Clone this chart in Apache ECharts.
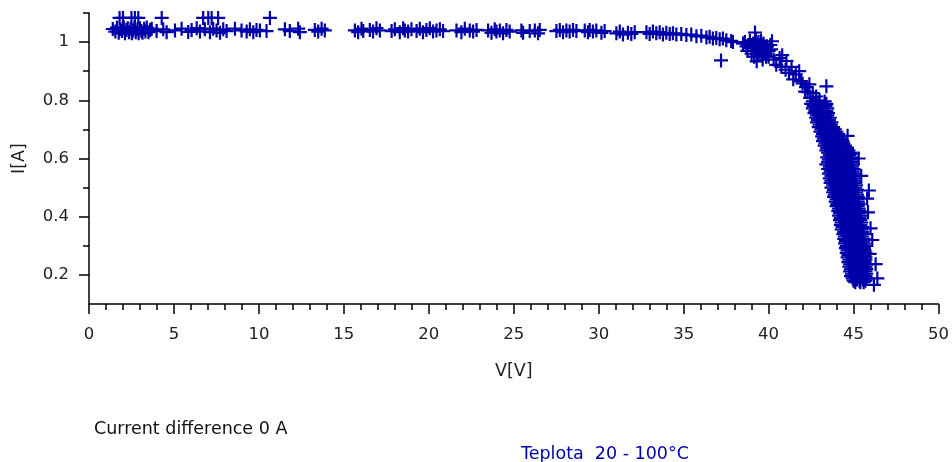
<!DOCTYPE html>
<html>
<head>
<meta charset="utf-8">
<script src="https://cdn.jsdelivr.net/npm/echarts@6/dist/echarts.min.js"></script>
<style>
html,body{margin:0;padding:0;background:#fff;}
#chart{width:952px;height:462px;}
</style>
</head>
<body>
<div id="chart"></div>
<script>
// ---- data: [V, I] pairs ----
const plateauA = [
 [1.40,1.045],[1.55,1.036],[1.65,1.050],[1.75,1.032],[1.85,1.044],[1.95,1.038],[2.05,1.050],[2.12,1.030],
 [2.20,1.042],[2.28,1.048],[2.35,1.034],[2.45,1.046],[2.52,1.030],[2.60,1.040],[2.68,1.050],[2.75,1.034],
 [2.85,1.044],[2.92,1.030],[3.00,1.048],[3.08,1.038],[3.15,1.032],[3.25,1.046],[3.32,1.036],[3.40,1.050],
 [3.50,1.034],[3.60,1.042],[3.69,1.046],[3.98,1.038],[4.37,1.044],[4.57,1.034],[5.06,1.040],[5.45,1.046],
 [5.84,1.035],[6.04,1.042],[6.34,1.048],[6.53,1.036],[6.82,1.044],[7.12,1.034],[7.31,1.046],[7.51,1.040],
 [7.71,1.032],[7.90,1.044],[8.10,1.038],[8.59,1.046],[8.98,1.040],[9.28,1.036],[9.47,1.044],[9.67,1.034],
 [9.86,1.042],[10.06,1.040],[10.45,1.038],[11.53,1.044],[11.82,1.038],[12.31,1.046],[12.41,1.034],
 [13.29,1.042],[13.49,1.036],[13.69,1.046],[13.88,1.040]
];
const plateauHigh = [
 [1.80,1.083],[2.00,1.083],[2.50,1.083],[2.70,1.083],[2.90,1.083],[4.28,1.083],[6.72,1.083],[7.02,1.083],
 [7.22,1.083],[7.60,1.083],[10.65,1.083]
];
const plateauB = [
 [15.65,1.040],[15.84,1.034],[16.04,1.046],[16.14,1.038],[16.53,1.042],[16.72,1.036],[16.92,1.048],[17.12,1.040],
 [17.81,1.038],[18.00,1.044],[18.29,1.034],[18.49,1.048],[18.59,1.040],[18.78,1.036],[18.98,1.044],[19.28,1.038],
 [19.47,1.046],[19.66,1.034],[19.86,1.042],[20.06,1.048],[20.25,1.036],[20.45,1.040],[20.65,1.044],[20.84,1.038],
 [21.63,1.040],[21.92,1.034],[22.12,1.046],[22.41,1.040],[22.61,1.036],[22.81,1.042],[23.49,1.040],[23.69,1.032],
 [23.88,1.044],[23.98,1.036],[24.18,1.040],[24.37,1.030],[24.57,1.042],[24.76,1.036],[25.45,1.040],[25.55,1.032],
 [25.94,1.038],[26.24,1.040],[26.43,1.030],[26.53,1.042],[27.51,1.038],[27.71,1.042],[27.90,1.034],[28.10,1.040],
 [28.29,1.036],[28.49,1.042],[28.69,1.038]
];
const plateauC = [
 [29.18,1.040],[29.37,1.034],[29.47,1.042],[29.66,1.036],[29.86,1.040],[30.16,1.032],[30.35,1.038],[31.04,1.030],
 [31.24,1.036],[31.43,1.026],[31.72,1.032],[31.92,1.028],[32.12,1.034],[32.81,1.034],[33.00,1.028],[33.19,1.036],
 [33.39,1.030],[33.59,1.034],[33.78,1.026],[33.98,1.032],[34.18,1.028],[34.37,1.030],[34.57,1.026],[34.86,1.028],
 [35.16,1.024],[35.45,1.026],[35.75,1.020],[36.04,1.022],[36.34,1.016],[36.53,1.018],[36.72,1.012],[36.92,1.014],
 [37.12,1.010],[37.31,1.012],[37.51,1.006],[37.80,1.004],[37.90,1.000],[37.20,0.937]
];
const knee = [
 [38.6,1.000],[38.7,0.985],[38.8,0.990],[38.9,1.005],[39.0,0.980],[39.0,0.960],[39.1,0.995],[39.2,1.033],
 [39.2,0.970],[39.3,0.985],[39.3,0.934],[39.4,1.000],[39.4,0.960],[39.5,0.975],[39.5,0.990],[39.6,0.955],
 [39.7,0.980],[39.7,0.995],[39.8,0.965],[39.9,0.985],[40.0,0.970],[40.0,0.950],[40.1,0.990],[40.2,1.003],
 [38.75,0.970],[39.15,0.950],[39.55,1.005],[39.85,0.950],[39.25,1.010],[38.5,0.995],[40.15,0.975],[39.65,0.940]
];
const descent = [
 [40.30,0.940],[40.45,0.922],[40.65,0.945],[40.80,0.955],[40.75,0.915],[41.00,0.905],[41.05,0.935],[41.20,0.894],
 [41.35,0.915],[41.60,0.889],[41.45,0.872],[41.80,0.900],[41.90,0.866],[42.00,0.858],[42.20,0.845],[42.40,0.855],
 [42.30,0.828],[42.60,0.825],[42.80,0.813],[43.40,0.848],[42.45,0.808],[43.00,0.800],[42.15,0.830]
];
const shoulder = [
 [42.60,0.796],[43.30,0.796],[42.50,0.788],[42.95,0.788],[43.40,0.788],[42.65,0.780],[43.35,0.780],
 [42.60,0.772],[43.05,0.772],[43.45,0.772],[42.75,0.764],[43.40,0.764],[42.70,0.756],[43.10,0.756],[43.50,0.756],
 [42.85,0.748],[43.45,0.748],[42.80,0.740],[43.20,0.740],[43.60,0.740],[42.90,0.732],[43.55,0.732],
 [42.85,0.724],[43.30,0.724],[43.70,0.724],[43.00,0.716],[43.65,0.716],[42.95,0.708],[43.40,0.708],[43.80,0.708],
 [43.10,0.700],[43.55,0.700],[43.90,0.700],[43.05,0.692],[43.50,0.692],[44.00,0.692],[43.20,0.684],[43.65,0.684],
 [44.10,0.684],[43.15,0.676],[43.60,0.676],[44.15,0.676],[43.25,0.668],[43.75,0.668],[44.25,0.668],
 [43.20,0.660],[43.70,0.660],[44.35,0.660],[43.35,0.652],[43.85,0.652],[44.40,0.652],[43.30,0.644],[43.80,0.644],
 [44.50,0.644],[43.45,0.636],[43.95,0.636],[44.60,0.636],[43.40,0.628],[44.00,0.628],[44.70,0.628],
 [44.65,0.678],[44.95,0.617],
 [42.95,0.792],[43.00,0.776],[43.05,0.760],[43.15,0.744],[43.25,0.728],[43.35,0.712],[43.30,0.696],[43.80,0.696],
 [43.40,0.680],[43.90,0.680],[43.50,0.664],[44.00,0.664],[43.55,0.648],[44.10,0.648],[43.70,0.632],[44.30,0.632]
];
const tail = [
 [43.50,0.620],[44.15,0.620],[44.80,0.620],[43.60,0.612],[44.20,0.612],[44.75,0.612],
 [43.45,0.604],[44.10,0.604],[44.85,0.604],[43.55,0.596],[44.25,0.596],[44.90,0.596],
 [43.50,0.588],[44.15,0.588],[44.85,0.588],[43.40,0.580],[44.20,0.580],[44.95,0.580],
 [43.60,0.572],[44.30,0.572],[44.90,0.572],[43.50,0.564],[44.25,0.564],[45.00,0.564],
 [43.65,0.556],[44.30,0.556],[44.95,0.556],[43.55,0.548],[44.35,0.548],[45.05,0.548],
 [43.70,0.540],[44.40,0.540],[45.00,0.540],[43.60,0.532],[44.35,0.532],[45.10,0.532],
 [43.70,0.524],[44.45,0.524],[45.05,0.524],[43.65,0.516],[44.40,0.516],[45.10,0.516],
 [43.80,0.508],[44.50,0.508],[45.15,0.508],[43.70,0.500],[44.45,0.500],[45.10,0.500],
 [43.85,0.492],[44.55,0.492],[45.20,0.492],[43.80,0.484],[44.50,0.484],[45.15,0.484],
 [43.90,0.476],[44.60,0.476],[45.20,0.476],[43.85,0.468],[44.55,0.468],[45.25,0.468],
 [44.00,0.460],[44.65,0.460],[45.20,0.460],[43.95,0.452],[44.60,0.452],[45.25,0.452],
 [44.05,0.444],[44.70,0.444],[45.30,0.444],[44.00,0.436],[44.65,0.436],[45.25,0.436],
 [44.15,0.428],[44.75,0.428],[45.30,0.428],[44.10,0.420],[44.70,0.420],[45.35,0.420],
 [44.20,0.412],[44.80,0.412],[45.30,0.412],[44.15,0.404],[44.75,0.404],[45.40,0.404],
 [44.25,0.396],[44.85,0.396],[45.35,0.396],[44.20,0.388],[44.80,0.388],[45.40,0.388],
 [44.30,0.380],[44.90,0.380],[45.45,0.380],[44.25,0.372],[44.85,0.372],[45.40,0.372],
 [44.35,0.364],[44.95,0.364],[45.50,0.364],[44.30,0.356],[44.90,0.356],[45.45,0.356],
 [44.45,0.348],[45.00,0.348],[45.50,0.348],[44.40,0.340],[44.95,0.340],[45.55,0.340],
 [44.50,0.332],[45.05,0.332],[45.50,0.332],[44.45,0.324],[45.00,0.324],[45.60,0.324],
 [44.55,0.316],[45.10,0.316],[45.55,0.316],[44.50,0.308],[45.05,0.308],[45.60,0.308],
 [44.60,0.300],[45.15,0.300],[45.65,0.300],[44.55,0.292],[45.10,0.292],[45.60,0.292],
 [44.65,0.284],[45.20,0.284],[45.65,0.284],[44.60,0.276],[45.15,0.276],[45.70,0.276],
 [44.70,0.268],[45.20,0.268],[45.65,0.268],[44.65,0.260],[45.25,0.260],[45.70,0.260],
 [44.75,0.252],[45.20,0.252],[45.70,0.252],[44.70,0.244],[45.25,0.244],[45.65,0.244],
 [44.80,0.236],[45.30,0.236],[45.75,0.236],[44.75,0.228],[45.25,0.228],[45.70,0.228],
 [44.85,0.220],[45.30,0.220],[45.75,0.220],[44.80,0.212],[45.35,0.212],[45.70,0.212],
 [44.90,0.204],[45.30,0.204],[45.75,0.204],[44.85,0.196],[45.35,0.196],[45.70,0.196],
 [44.95,0.188],[45.40,0.188],[45.75,0.188],[45.00,0.180],[45.35,0.180],[45.70,0.180],
 [45.10,0.175],[45.40,0.175],[45.60,0.175]
];
const tailFill = [
 [43.85,0.624],[44.45,0.624],[43.90,0.616],[44.50,0.616],[43.80,0.608],[44.50,0.608],[43.90,0.600],[44.55,0.600],
 [43.85,0.592],[44.50,0.592],[43.80,0.584],[44.60,0.584],[43.95,0.576],[44.60,0.576],[43.90,0.568],[44.65,0.568],
 [44.00,0.560],[44.65,0.560],[43.95,0.552],[44.70,0.552],[44.05,0.544],[44.70,0.544],[44.00,0.536],[44.75,0.536],
 [44.10,0.528],[44.75,0.528],[44.05,0.520],[44.75,0.520],[44.15,0.512],[44.85,0.512],[44.10,0.504],[44.80,0.504],
 [44.20,0.496],[44.90,0.496],[44.15,0.488],[44.85,0.488],[44.25,0.480],[44.90,0.480],[44.20,0.472],[44.90,0.472],
 [44.30,0.464],[44.95,0.464],[44.30,0.456],[44.95,0.456],[44.40,0.448],[45.00,0.448],[44.35,0.440],[44.95,0.440],
 [44.45,0.432],[45.05,0.432],[44.40,0.424],[45.05,0.424],[44.50,0.416],[45.05,0.416],[44.45,0.408],[45.10,0.408],
 [44.55,0.400],[45.10,0.400],[44.50,0.392],[45.10,0.392],[44.60,0.384],[45.20,0.384],[44.55,0.376],[45.15,0.376],
 [44.65,0.368],[45.20,0.368],[44.60,0.360],[45.20,0.360],[44.70,0.352],[45.25,0.352],[44.70,0.344],[45.25,0.344],
 [44.80,0.336],[45.30,0.336],[44.75,0.328],[45.30,0.328],[44.85,0.320],[45.35,0.320],[44.80,0.312],[45.35,0.312],
 [44.90,0.304],[45.40,0.304],[44.85,0.296],[45.35,0.296],[44.95,0.288],[45.45,0.288],[44.90,0.280],[45.45,0.280],
 [44.95,0.272],[45.45,0.272],[44.95,0.264],[45.50,0.264],[45.00,0.256],[45.45,0.256],[45.00,0.248],[45.45,0.248],
 [45.05,0.240],[45.55,0.240],[45.00,0.232],[45.50,0.232],[45.10,0.224],[45.55,0.224],[45.10,0.216],[45.55,0.216],
 [45.10,0.208],[45.50,0.208],[45.10,0.200],[45.55,0.200],[45.15,0.192],[45.60,0.192],[45.20,0.184],[45.55,0.184]
];
const tailOutliers = [
 [45.30,0.600],[45.45,0.540],[45.90,0.490],[45.80,0.462],[45.85,0.415],[46.00,0.360],[46.10,0.320],
 [45.95,0.272],[46.30,0.237],[46.40,0.188],[46.20,0.166],[45.60,0.300]
];
const xTicks = [0,5,10,15,20,25,30,35,40,45,50];
const yMajor = [0.2,0.4,0.6,0.8,1.0];
const yMinor = [0.3,0.5,0.7,0.9,1.1];
const xTitle = 'V[V]';
const yTitle = 'I[A]';
const note1 = 'Current difference 0 A';
const note2 = 'Teplota  20 - 100°C';

const allPoints = [].concat(plateauA, plateauHigh, plateauB, plateauC, knee, descent, shoulder, tail, tailFill, tailOutliers);

const FONT = 'DejaVu Sans, sans-serif';
const BLUE = '#0000aa';
const plusPath = 'path://M5.9,0L8.1,0L8.1,5.9L14,5.9L14,8.1L8.1,8.1L8.1,14L5.9,14L5.9,8.1L0,8.1L0,5.9L5.9,5.9Z';

const chart = echarts.init(document.getElementById('chart'), null, {renderer: 'canvas'});
chart.setOption({
  animation: false,
  backgroundColor: '#fff',
  grid: {left: 89, right: 13, top: 13, bottom: 158},
  title: [
    {text: note1, left: 94, top: 420, padding: 0, textStyle: {fontFamily: FONT, fontSize: 17.5, fontWeight: 'normal', color: '#111'}},
    {text: note2, left: 521, top: 445, padding: 0, textStyle: {fontFamily: FONT, fontSize: 17.5, fontWeight: 'normal', color: BLUE}}
  ],
  xAxis: {
    type: 'value', min: xTicks[0], max: xTicks[xTicks.length - 1], interval: 5,
    name: xTitle, nameLocation: 'middle', nameGap: 58,
    nameTextStyle: {fontFamily: FONT, fontSize: 17.5, color: '#222'},
    axisLine: {show: true, lineStyle: {color: '#000', width: 1.5}},
    axisTick: {show: true, inside: false, length: 10, lineStyle: {color: '#000', width: 1.5}},
    minorTick: {show: true, splitNumber: 5, length: 6, lineStyle: {color: '#000', width: 1.5}},
    axisLabel: {margin: 22, fontFamily: FONT, fontSize: 16.5, color: '#222'},
    splitLine: {show: false}, minorSplitLine: {show: false}
  },
  yAxis: [
    {
      type: 'value', min: 0.1, max: 1.1, position: 'left',
      name: yTitle, nameLocation: 'middle', nameGap: 61,
      nameTextStyle: {fontFamily: FONT, fontSize: 17.5, color: '#222'},
      axisLine: {show: true, lineStyle: {color: '#000', width: 1.5}},
      axisTick: {show: true, length: 10, customValues: yMajor, lineStyle: {color: '#000', width: 1.5}},
      axisLabel: {margin: 20, customValues: yMajor, fontFamily: FONT, fontSize: 16.5, color: '#222',
        formatter: v => (Math.round(v * 10) / 10).toString()},
      splitLine: {show: false}
    },
    {
      type: 'value', min: 0.1, max: 1.1, position: 'left', gridIndex: 0,
      axisLine: {show: false},
      axisTick: {show: true, length: 6, customValues: yMinor, lineStyle: {color: '#000', width: 1.5}},
      axisLabel: {show: false, customValues: yMinor},
      splitLine: {show: false}
    }
  ],
  series: [{
    type: 'scatter',
    data: allPoints,
    symbol: plusPath,
    symbolSize: 14,
    clip: false,
    itemStyle: {color: BLUE, opacity: 1},
    emphasis: {disabled: true}
  }]
});
</script>
</body>
</html>
